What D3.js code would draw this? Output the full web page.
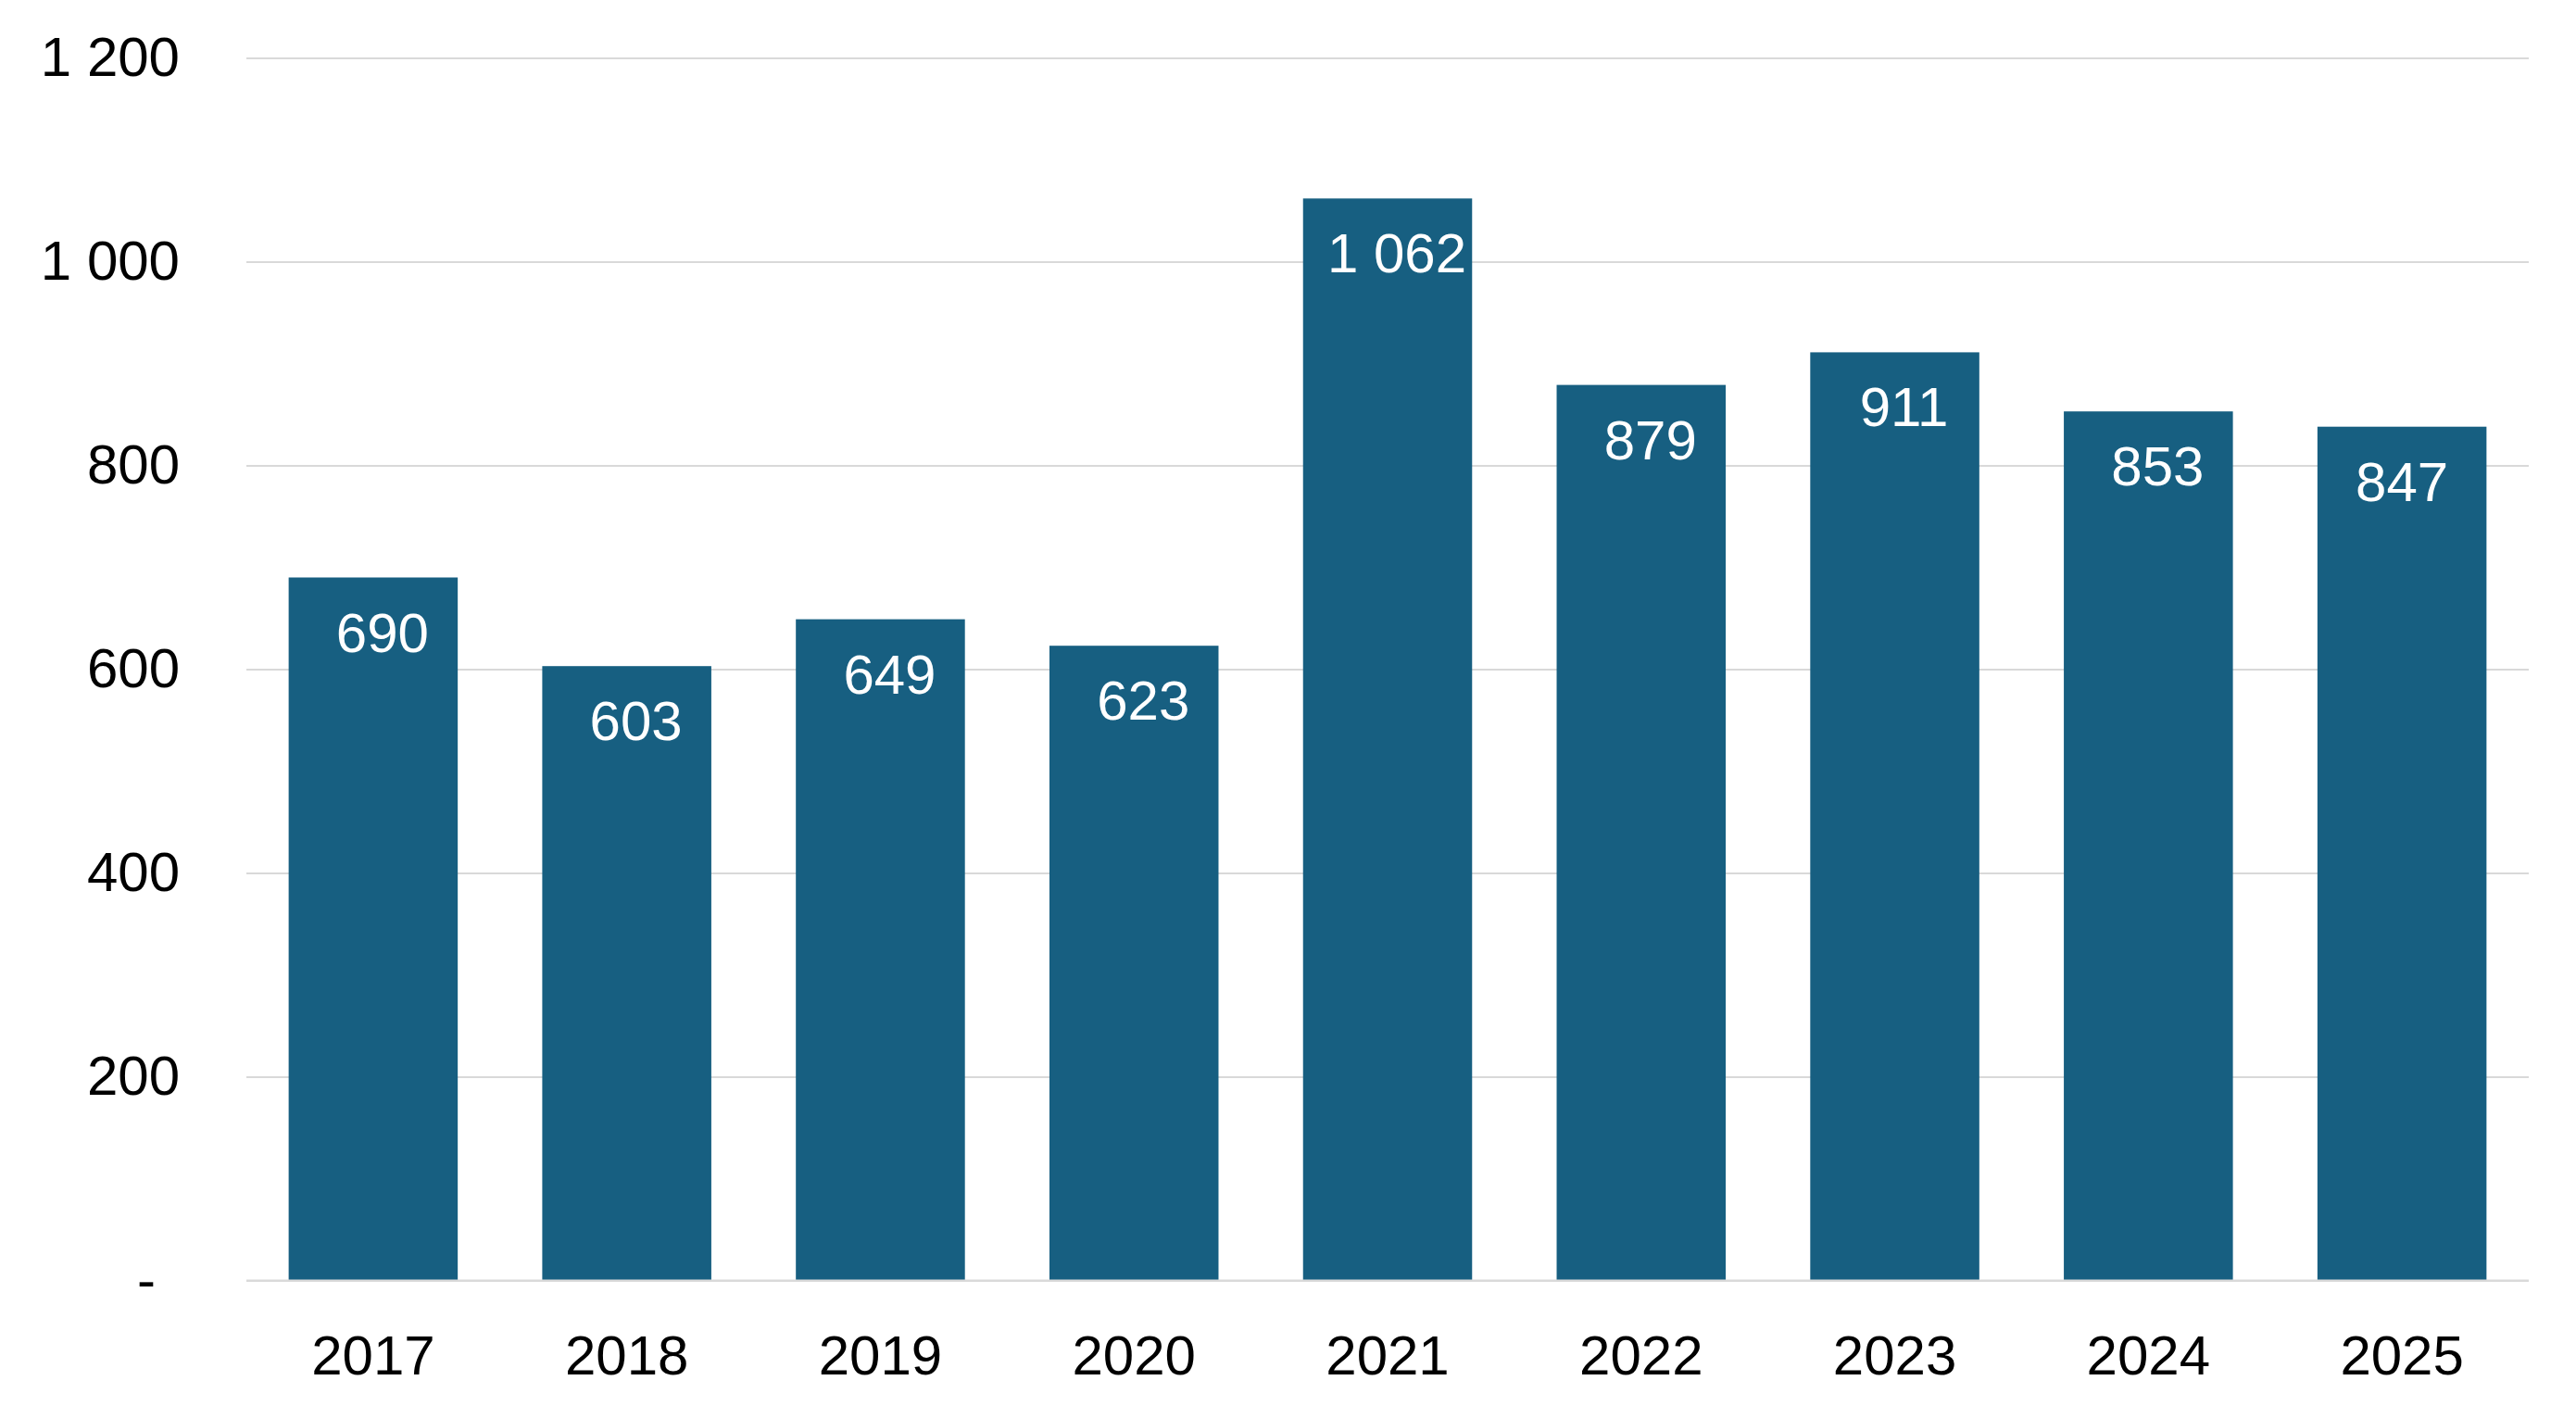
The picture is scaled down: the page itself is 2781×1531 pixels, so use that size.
<!DOCTYPE html>
<html>
<head>
<meta charset="utf-8">
<script src="https://cdn.jsdelivr.net/npm/d3@7"></script>
<style>
  body { margin: 0; background: #fff; }
  svg { display: block; font-family: "Liberation Sans", Arial, sans-serif; }
  .axis text { font-size: 60px; fill: #000; }
  .bar-label { font-size: 60px; fill: #fff; }
</style>
</head>
<body>
<svg id="chart"></svg>
<script>
// data
const years = ['2017', '2018', '2019', '2020', '2021', '2022', '2023', '2024', '2025'];
// bar heights as drawn (the 2025 bar is drawn a bit short of its label)
const values = [690, 603, 649, 623, 1062, 879, 911, 853, 838];
// printed labels
const labels = [690, 603, 649, 623, 1062, 879, 911, 853, 847];
const yTicks = [0, 200, 400, 600, 800, 1000, 1200];

// "1 062" style, zero shown as a dash
const fmt = v => v === 0 ? '-' : d3.format(',')(v).replace(/,/g, ' ');

class BarChart {

    constructor(_config, _data) {
        this.config = {
            parentElement: _config.parentElement,
            containerWidth: 2781,
            containerHeight: 1531,
            margin: {top: 62.5, right: 51, bottom: 148.5, left: 266}
        }
        this.data = _data;
        this.initVis();
    }

    initVis() {
        let vis = this;

        vis.width = vis.config.containerWidth - vis.config.margin.left - vis.config.margin.right;
        vis.height = vis.config.containerHeight - vis.config.margin.top - vis.config.margin.bottom;

        vis.xScale = d3.scaleBand()
            .domain(years)
            .range([0, vis.width])
            .paddingInner(1 / 3)
            .paddingOuter(1 / 6);

        vis.yScale = d3.scaleLinear()
            .domain([0, 1200])
            .range([vis.height, 0]);

        vis.svg = d3.select(vis.config.parentElement)
            .attr('width', vis.config.containerWidth)
            .attr('height', vis.config.containerHeight);

        vis.chart = vis.svg.append('g')
            .attr('transform', `translate(${vis.config.margin.left},${vis.config.margin.top})`);

        // gridlines + tick labels
        vis.yAxis = d3.axisLeft(vis.yScale)
            .tickValues(yTicks)
            .tickFormat(fmt)
            .tickSize(-vis.width)
            .tickPadding(72);

        vis.xAxis = d3.axisBottom(vis.xScale)
            .tickSize(0)
            .tickPadding(59);

        vis.yAxisG = vis.chart.append('g').attr('class', 'axis y-axis');
        vis.barsG = vis.chart.append('g');
        vis.xAxisG = vis.chart.append('g')
            .attr('class', 'axis x-axis')
            .attr('transform', `translate(0,${vis.height})`);
    }

    renderVis() {
        let vis = this;

        vis.yAxisG.call(vis.yAxis)
            .call(g => g.select('.domain').remove())
            .call(g => g.selectAll('.tick line').attr('stroke', '#d9d9d9').attr('stroke-width', 2))
            .call(g => g.selectAll('.tick text').attr('dx', d => d === 0 ? -26 : 0));

        vis.barsG.selectAll('.bar')
            .data(vis.data)
            .join('rect')
            .attr('class', 'bar')
            .attr('x', d => vis.xScale(d.year))
            .attr('width', vis.xScale.bandwidth())
            .attr('y', d => vis.yScale(d.value))
            .attr('height', d => vis.height - vis.yScale(d.value))
            .attr('fill', '#175f81');

        // labels sit a little right of centre, except the last one
        vis.barsG.selectAll('.bar-label')
            .data(vis.data)
            .join('text')
            .attr('class', 'bar-label')
            .attr('text-anchor', 'middle')
            .attr('x', (d, i) => vis.xScale(d.year) + vis.xScale.bandwidth() / 2 + (i === vis.data.length - 1 ? 0 : 10))
            .attr('y', d => vis.yScale(d.value) + 80)
            .text(d => fmt(d.label));

        vis.xAxisG.call(vis.xAxis)
            .call(g => g.select('.domain').remove());

        // baseline gridline sits on top of the bars
        vis.xAxisG.append('line')
            .attr('x1', 0)
            .attr('x2', vis.width)
            .attr('stroke', '#d9d9d9')
            .attr('stroke-width', 2);
    }
}

const data = years.map((y, i) => ({year: y, value: values[i], label: labels[i]}));
const chart = new BarChart({parentElement: '#chart'}, data);
chart.renderVis();
</script>
</body>
</html>
